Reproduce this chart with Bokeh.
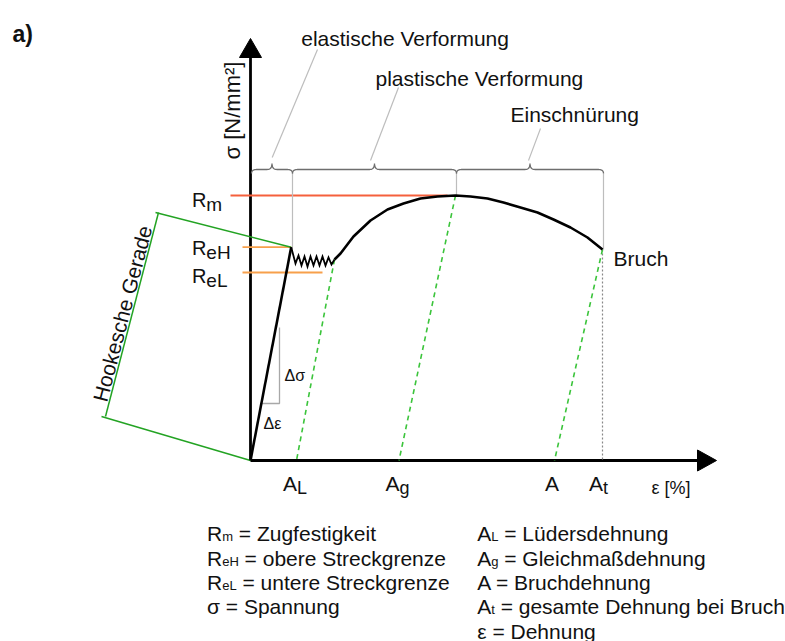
import numpy as np
from bokeh.plotting import figure
from bokeh.models import Range1d
from bokeh.core.properties import value
from bokeh.embed import file_html
from bokeh.resources import INLINE

FONT = "Liberation Sans"

# ---------------- data (strain / stress in drawing units) ----------------
elastic_eps = [0.0, 40.7]
elastic_sig = [0.0, 213.3]

luders_eps = [40.7, 45, 48, 51, 54, 57, 60, 63, 66, 69, 72, 75, 78, 81, 84]
luders_sig = [213.3, 197, 205, 195, 204, 194, 204, 195, 204, 195, 204, 195, 203, 196, 201]

harden_eps = [84, 90, 103, 120, 137, 153, 170, 187, 205, 220, 237, 253, 270, 287, 303, 320, 337, 352]
harden_sig = [201, 207, 224, 240, 251, 257, 262, 264, 265, 264, 262, 258, 253, 248, 241, 233, 223, 211]

R_m, R_eH, R_eL = 265.0, 213.3, 188.0
A_L, A_g, A_br, A_t = 46.0, 148.5, 304.0, 352.0

# unloading lines: start point on curve -> residual strain on axis
unload_start_eps = [84.0, 205.0, 352.0]
unload_start_sig = [201.0, 265.0, 211.0]
unload_end_eps = [A_L, A_g, A_br]

legend_left = [("R", "m", "= Zugfestigkeit"),
               ("R", "eH", "= obere Streckgrenze"),
               ("R", "eL", "= untere Streckgrenze"),
               ("σ = Spannung", "", "")]
legend_right = [("A", "L", "= Lüdersdehnung"),
                ("A", "g", "= Gleichmaßdehnung"),
                ("A = Bruchdehnung", "", ""),
                ("A", "t", "= gesamte Dehnung bei Bruch"),
                ("ε = Dehnung", "", "")]

# ---------------- figure ----------------
p = figure(width=785, height=641, x_range=Range1d(-250, 535), y_range=Range1d(-181, 460),
           output_backend="svg", toolbar_location=None, x_axis_type=None, y_axis_type=None,
           min_border=0)
p.grid.visible = False
p.outline_line_color = None
p.background_fill_color = "white"

W = {"R": .722, "m": .833, "e": .556, "H": .722, "L": .556, "A": .667, "g": .556, "t": .278, " ": .278}


def tw(s, size):
    return sum(W.get(c, .556) for c in s) * size


def txt(x, y, s, size, align="left", baseline="alphabetic", angle=0.0, style="normal", color="#111111"):
    p.text(x=[x], y=[y], text=[s], text_font=value(FONT), text_font_size=f"{size}px",
           text_align=align, text_baseline=baseline, angle=angle, text_color=color,
           text_font_style=style)


# ---- axes ----
y_top, x_right = 422.0, 466.0
p.line([0, 0], [0, y_top - 19], line_color="black", line_width=2.8)
p.line([0, x_right - 19], [0, 0], line_color="black", line_width=2.8)
p.patch([-11, 11, 0], [y_top - 19, y_top - 19, y_top], color="black")
p.patch([x_right - 19, x_right - 19, x_right], [-10.5, 10.5, 0], color="black")

# ---- reference horizontal lines ----
p.line([-20, 197], [R_m, R_m], line_color="#F5603C", line_width=1.8)
p.line([-8, elastic_eps[1]], [R_eH, R_eH], line_color="#F7A04B", line_width=1.8)
p.line([-8, 72], [R_eL, R_eL], line_color="#F7A04B", line_width=1.8)

# ---- Hooke bracket ----
p.line([-95, elastic_eps[1]], [248, R_eH], line_color="#23A323", line_width=1.5)
p.line([-149, 0], [44, 0], line_color="#23A323", line_width=1.5)
p.line([-92, -145], [248, 44], line_color="#23A323", line_width=1.5)
txt(-128, 147, "Hookesche Gerade", 21, align="center", baseline="middle", angle=np.deg2rad(75.4))

# ---- gray guide lines ----
gray = "#BDBDBD"
p.line([42, 42], [287, R_eH], line_color=gray, line_width=1.2)
p.line([206, 206], [287, R_m], line_color=gray, line_width=1.2)
p.line([A_t + 1, A_t + 1], [287, harden_sig[-1]], line_color=gray, line_width=1.2)
p.line([A_t, A_t], [harden_sig[-1], 0], line_color="#888888", line_width=1.2, line_dash="2 2")
# leader lines
p.line([21.7, 67], [303, 411], line_color=gray, line_width=1.2)
p.line([120, 148], [300, 373], line_color=gray, line_width=1.2)
p.line([278, 290], [300, 332], line_color=gray, line_width=1.2)

# ---- braces ----
t = np.linspace(0, 1, 12)


def q(a, c, b):
    return (1 - t) ** 2 * a + 2 * (1 - t) * t * c + t ** 2 * b


def brace(x0, x1, yb=291.0, he=4.0, ht=6.0, r=5.0):
    xc = (x0 + x1) / 2
    xs = np.concatenate([q(x0, x0, x0 + r), q(xc - r, xc, xc), q(xc, xc, xc + r), q(x1 - r, x1, x1)])
    ys = np.concatenate([q(yb - he, yb, yb), q(yb, yb, yb + ht), q(yb + ht, yb, yb), q(yb, yb, yb - he)])
    p.line(xs, ys, line_color="#6E6E6E", line_width=1.3)


brace(1, 42)
brace(42, 206)
brace(206, A_t + 1)

# ---- delta triangle ----
slope = elastic_sig[1] / elastic_eps[1]
p.line([57 / slope, 29, 29], [57, 57, 133], line_color="#A8A8A8", line_width=1.3)
txt(34, 85, "Δσ", 16)
txt(13, 37, "Δε", 16)

# ---- unloading lines ----
for xs, ys, xe in zip(unload_start_eps, unload_start_sig, unload_end_eps):
    p.line([xs, xe], [ys, 0], line_color="#3BC43B", line_width=1.6, line_dash="5 4")

# ---- curve ----
p.line(elastic_eps, elastic_sig, line_color="black", line_width=2.6)
p.line(luders_eps, luders_sig, line_color="black", line_width=1.8, line_join="miter")
p.line(harden_eps, harden_sig, line_color="black", line_width=2.6)

# ---- labels ----
txt(-238, 427, "a)", 23, style="bold")
txt(50.7, 422, "elastische Verformung", 21)
txt(125, 382, "plastische Verformung", 21)
txt(260, 346, "Einschnürung", 21)
txt(363, 202, "Bruch", 21)
txt(-18, 350, "σ [N/mm²]", 22, align="center", baseline="middle", angle=np.pi / 2)

for sub, yv in (("m", R_m - 4), ("eH", R_eH - 0.5), ("eL", R_eL - 3)):
    txt(-58.6, yv, "R", 20)
    txt(-58.6 + tw("R", 20), yv - 5, sub, 19)

for main, sub, xv in (("A", "L", A_L), ("A", "g", A_g), ("A", "t", A_t)):
    txt(xv + 0.5, -23, main, 21, align="right")
    txt(xv + 0.5, -27, sub, 18)
txt(A_br - 2.5, -23, "A", 21, align="center")
txt(401, -27, "ε [%]", 18)

# ---- legend ----
base = [-73.3, -97.6, -121.9, -146.2, -170.5]


def legend_col(x0, rows):
    for (main, sub, rest), yb in zip(rows, base):
        txt(x0, yb, main, 21)
        if sub:
            xs = x0 + tw(main, 21)
            txt(xs, yb - 3, sub, 13)
            txt(xs + tw(sub, 13) + tw(" ", 21), yb, rest, 21)


legend_col(-43.5, legend_left)
legend_col(226.7, legend_right)

open("out.html", "w").write(file_html(p, INLINE))
